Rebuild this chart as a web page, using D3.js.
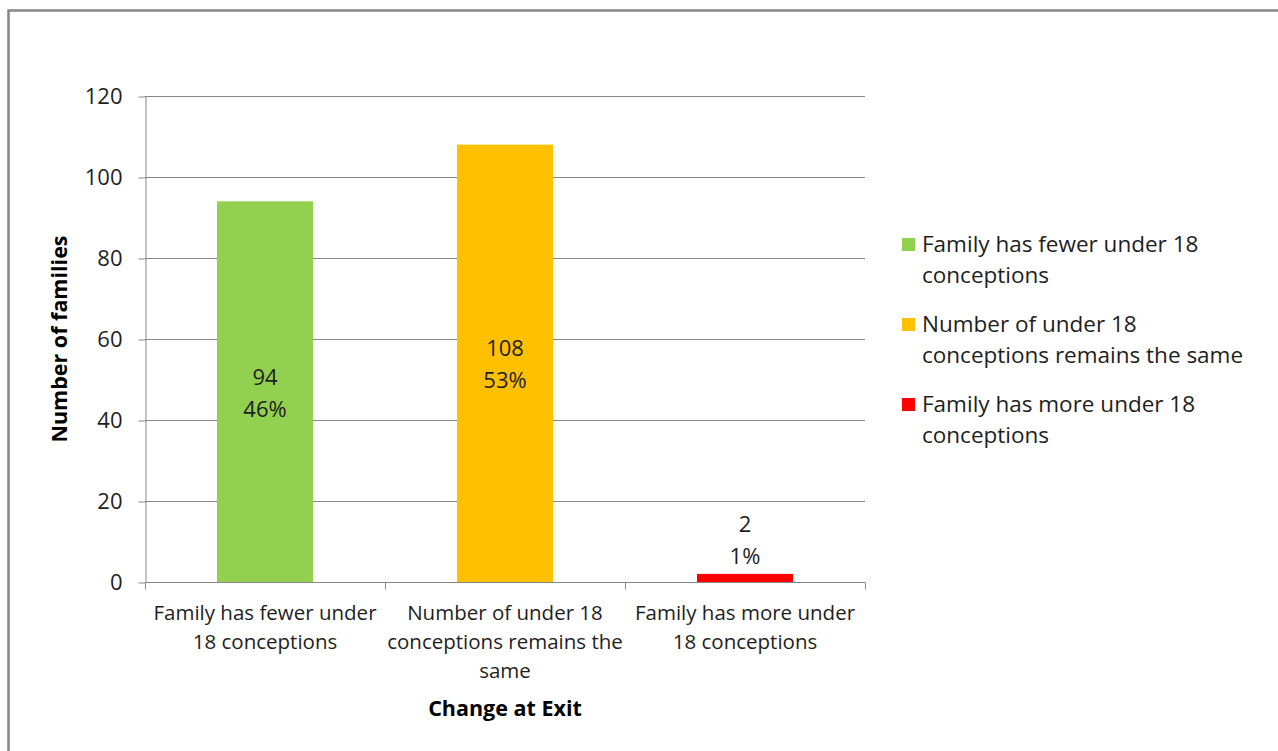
<!DOCTYPE html>
<html><head><meta charset="utf-8">
<script src="https://cdn.jsdelivr.net/npm/d3@7"></script>
<style>
html,body{margin:0;padding:0;background:#fff;}
svg{display:block;font-family:"Open Sans", sans-serif;}
</style></head>
<body>
<script>
const categories = ["Family has fewer under 18 conceptions","Number of under 18 conceptions remains the same","Family has more under 18 conceptions"];
const categoryLabelLines = [["Family has fewer under","18 conceptions"],["Number of under 18","conceptions remains the","same"],["Family has more under","18 conceptions"]];
const values = [94,108,2];
const percents = ["46%","53%","1%"];
const colors = ["#92D050","#FFC000","#FF0000"];
const legendLines = [["Family has fewer under 18","conceptions"],["Number of under 18","conceptions remains the same"],["Family has more under 18","conceptions"]];
const yTicks = [0,20,40,60,80,100,120];

(function(){
const W=1278,H=751;
const svg=d3.select("body").append("svg").attr("width",W).attr("height",H);
svg.append("rect").attr("x",8.5).attr("y",10.5).attr("width",W+20).attr("height",H+20)
  .attr("fill","#fff").attr("stroke","#878787").attr("stroke-width",2.5);

const pL=145,pR=865,pT=96,pB=582;
const x=d3.scaleBand().domain(categories).range([pL,pR]).paddingInner(0.6).paddingOuter(0.3);
const y=d3.scaleLinear().domain([0,120]).range([pB,pT]);
const txt="#1e1e1e";

// gridlines
svg.append("g").selectAll("line").data(yTicks.filter(d=>d>0)).join("line")
  .attr("x1",pL).attr("x2",pR).attr("y1",d=>y(d)+0.5).attr("y2",d=>y(d)+0.5)
  .attr("stroke","#878787").attr("stroke-width",1);

// y axis
const yAxis=svg.append("g").attr("transform",`translate(${pL+0.5},0)`)
  .call(d3.axisLeft(y).tickValues(yTicks).tickSize(7).tickPadding(16).tickSizeOuter(0));
yAxis.select(".domain").attr("stroke","#878787");
yAxis.selectAll(".tick line").attr("stroke","#878787").attr("transform","translate(0,0.5)");
yAxis.selectAll("text").attr("font-size",22).attr("fill",txt).attr("font-family","'Open Sans', sans-serif").attr("dy","0.36em");

// bars
svg.append("g").selectAll("rect").data(values).join("rect")
  .attr("x",(d,i)=>x(categories[i])).attr("width",x.bandwidth())
  .attr("y",d=>y(d)).attr("height",d=>y(0)-y(d)).attr("fill",(d,i)=>colors[i]);

// x axis
const xAxisG=svg.append("g").attr("transform",`translate(0,${pB+0.5})`);
xAxisG.append("line").attr("x1",pL).attr("x2",pR).attr("stroke","#878787");
const bounds=[pL,pL+x.step(),pL+2*x.step(),pR];
xAxisG.selectAll("line.t").data(bounds).join("line").attr("class","t")
  .attr("x1",d=>Math.round(d)+0.5).attr("x2",d=>Math.round(d)+0.5).attr("y1",0).attr("y2",7).attr("stroke","#878787");

// category labels
categoryLabelLines.forEach((lines,i)=>{
  const cx=x(categories[i])+x.bandwidth()/2;
  const t=svg.append("text").attr("text-anchor","middle").attr("font-size",20.5).attr("fill",txt);
  lines.forEach((l,j)=>t.append("tspan").attr("x",cx).attr("y",620+j*29).text(l));
});

// data labels
values.forEach((v,i)=>{
  const cx=x(categories[i])+x.bandwidth()/2;
  let cy;
  if (y(0)-y(v) > 80) cy=(y(v)+y(0))/2; else cy=y(v)-35;
  const t=svg.append("text").attr("text-anchor","middle").attr("font-size",22).attr("fill",txt);
  t.append("tspan").attr("x",cx).attr("y",cy-7).text(v);
  t.append("tspan").attr("x",cx).attr("y",cy+25).text(percents[i]);
});

// axis titles
svg.append("text").attr("transform",`translate(67,${(pT+pB)/2}) rotate(-90)`)
  .attr("text-anchor","middle").attr("font-size",21.5).attr("font-weight","bold").attr("fill","#000").text("Number of families");
svg.append("text").attr("x",(pL+pR)/2).attr("y",716).attr("text-anchor","middle")
  .attr("font-size",21.5).attr("font-weight","bold").attr("fill","#000").text("Change at Exit");

// legend
legendLines.forEach((lines,i)=>{
  const gy=244.5+i*80;
  svg.append("rect").attr("x",902).attr("y",gy-6.5).attr("width",13).attr("height",13).attr("fill",colors[i]);
  const t=svg.append("text").attr("font-size",22.5).attr("fill",txt);
  lines.forEach((l,j)=>t.append("tspan").attr("x",922).attr("y",gy+7.5+j*31).text(l));
});
})();
</script>
</body></html>
